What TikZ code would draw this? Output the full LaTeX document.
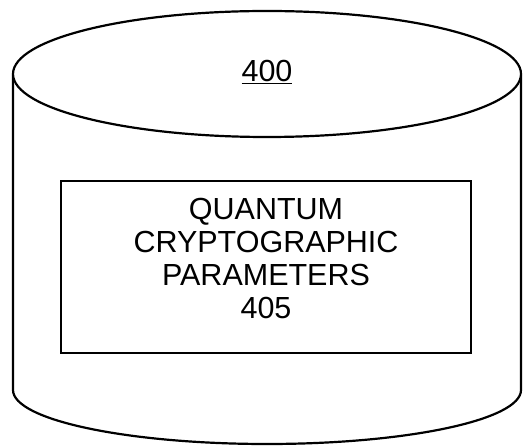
\documentclass[tikz,border=0pt]{standalone}
\usepackage{fontspec}
\setmainfont{Liberation Sans}
\usetikzlibrary{positioning}

\begin{document}
\begin{tikzpicture}[
  x=1pt, y=1pt,
  outline/.style={draw, line width=2.2pt},
  parambox/.style={draw, line width=1.8pt, minimum width=410pt,
                   minimum height=172pt, inner sep=0pt},
  lbl/.style={font=\fontsize{30.5}{33}\selectfont, align=center}
]
  \useasboundingbox (0,0) rectangle (532,447);

  % Database cylinder
  \draw[outline] (13,372) -- (13,57)
    arc[start angle=180, end angle=360, x radius=254, y radius=54]
    -- (521,372);
  \draw[outline, fill=white] (267,373) ellipse[x radius=254, y radius=63];

  % Store label
  \node[lbl] (store) at (267,375) {\underline{400}};

  % Parameters held in the store
  \node[parambox] (params) at (266,180) {};
  \node[lbl] (paramtext) at ([yshift=8pt]params.center)
    {QUANTUM\\CRYPTOGRAPHIC\\PARAMETERS\\405};

\end{tikzpicture}
\end{document}
